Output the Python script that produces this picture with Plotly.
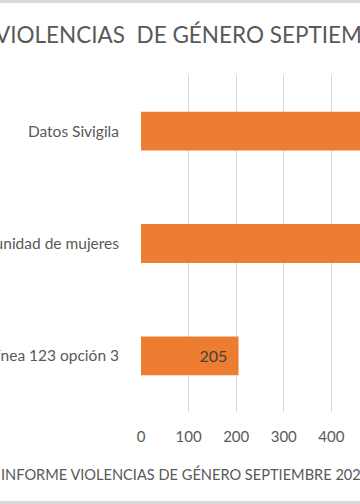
import plotly.graph_objects as go

categories = ["Línea 123 opción 3", "Comunidad de mujeres", "Datos Sivigila"]
values = [205, 980, 1150]
tick_vals = [0, 100, 200, 300, 400, 500, 600, 700, 800, 900, 1000, 1100, 1200]
title_text = "VIOLENCIAS  DE GÉNERO SEPTIEMBRE 2023"
axis_title_text = "INFORME VIOLENCIAS DE GÉNERO SEPTIEMBRE 2023"

FONT = "Lato"
TXT = "#595959"

fig = go.Figure(
    go.Bar(
        x=values,
        y=categories,
        orientation="h",
        marker=dict(color="#ED7D31", line=dict(width=0)),
        text=[f"{v}\u00a0\u00a0" for v in values],
        textposition="inside",
        insidetextanchor="end",
        textfont=dict(family=FONT, size=16, color="#404040"),
        cliponaxis=True,
    )
)

W, H = 360, 504
ML, MT, MB = 141, 75, 92
plot_h = H - MT - MB


def py(ypx):
    return (H - MB - ypx) / plot_h


def px_(xpx):
    return (xpx - ML) / (W - ML)


fig.update_layout(
    width=W,
    height=H,
    margin=dict(l=ML, r=0, t=MT, b=MB, autoexpand=False),
    paper_bgcolor="white",
    plot_bgcolor="white",
    bargap=0.655,
    showlegend=False,
    font=dict(family=FONT, color=TXT),
    xaxis=dict(
        range=[0, 460.2],
        tickvals=tick_vals,
        showgrid=True,
        gridcolor="#D9D9D9",
        gridwidth=1,
        zeroline=False,
        showline=False,
        ticks="",
        tickfont=dict(family=FONT, size=15, color=TXT),
        ticklabelstandoff=14,
        fixedrange=True,
    ),
    yaxis=dict(
        categoryorder="array",
        categoryarray=categories,
        showgrid=False,
        zeroline=False,
        showline=False,
        ticks="",
        tickfont=dict(family=FONT, size=15.5, color=TXT),
        ticklabelstandoff=21,
        automargin=False,
        fixedrange=True,
    ),
    annotations=[
        dict(
            text=title_text,
            xref="paper", yref="paper",
            x=px_(1), y=py(35),
            xanchor="left", yanchor="middle",
            xshift=-8,
            showarrow=False,
            font=dict(family=FONT, size=22.5, color=TXT),
        ),
        dict(
            text=axis_title_text,
            xref="paper", yref="paper",
            x=px_(-1), y=py(474),
            xanchor="left", yanchor="middle",
            showarrow=False,
            font=dict(family=FONT, size=14.6, color=TXT),
        ),
    ],
    shapes=[
        dict(type="line", xref="paper", yref="paper",
             x0=-1, x1=1.2, y0=py(1.5), y1=py(1.5),
             line=dict(color="#D9D9D9", width=3)),
        dict(type="line", xref="paper", yref="paper",
             x0=-1, x1=1.2, y0=py(502.5), y1=py(502.5),
             line=dict(color="#D9D9D9", width=3)),
    ],
)

fig.write_html(
    "out.html",
    config={"displayModeBar": False},
    post_script="document.body.style.margin='0';document.body.style.overflow='hidden';",
)
